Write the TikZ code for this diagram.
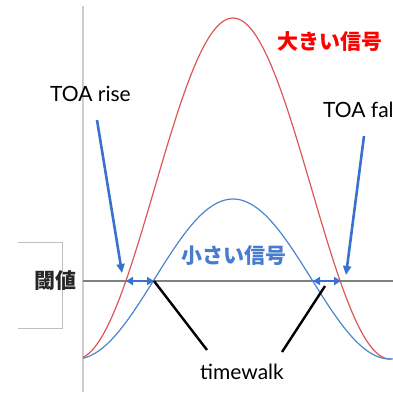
\documentclass[tikz,border=0pt]{standalone}
\usepackage{fontspec}
\setmainfont{Lato}
\newfontfamily\jp{Noto Sans CJK JP}
\usetikzlibrary{arrows.meta}
\definecolor{bigred}{RGB}{222,86,86}
\definecolor{smallblue}{RGB}{74,134,204}
\definecolor{arrowblue}{RGB}{58,112,206}
\definecolor{textblue}{RGB}{72,124,204}
\begin{document}
\begin{tikzpicture}[x=1pt,y=-1pt,
	lbl/.style={font=\fontsize{21}{24}\selectfont,inner sep=0pt},
	jplbl/.style={font=\jp\bfseries\fontsize{21}{24}\selectfont,inner sep=0pt},
	toa/.style={arrowblue,line width=2.6pt,-{Triangle[length=9pt,width=8pt]}},
	walk/.style={arrowblue,line width=2.6pt,{Triangle[length=7pt,width=8pt]}-{Triangle[length=7pt,width=8pt]}},
	tick/.style={black,line width=2.4pt}]
		\useasboundingbox (0,0) rectangle (393,392);
		
		% axes
		\draw[gray!40,line width=1.4pt] (83,6) -- (83,392);
		\draw[gray!50,line width=0.8pt] (18,242) -- (62,242) -- (62,328) -- (18,328);
		\draw[gray,line width=1.4pt] (83,281) -- (393,281);
		
		% signals
		\draw[bigred,line width=1.2pt] plot[domain=83:391,samples=120]
			(\x,{359-341*(1+cos((\x-233)/157*180))/2});
		\draw[smallblue,line width=1.2pt] plot[domain=83:393,samples=120]
			(\x,{359-160*(1+cos((\x-233)/157*180))/2});
		
		% crossings of the threshold
		\coordinate (redL) at (126,281);
		\coordinate (blueL) at (154,281);
		\coordinate (blueR) at (313,281);
		\coordinate (redR) at (341,281);
		
		\node[lbl,anchor=base west] (rise) at (50,101) {TOA rise};
		\node[lbl,anchor=base west] (fall) at (323,117) {TOA fal};
		\node[lbl,anchor=base west] (walk) at (200,379) {timewalk};
		\node[jplbl,text=red] (big) at (330,42) {大きい信号};
		\node[jplbl,text=textblue] (small) at (234,256) {小さい信号};
		\node[jplbl,text=black!85] (thr) at (55,281) {閾値};
		
		\coordinate (riseS) at (97,120);
		\coordinate (riseE) at (122,273);
		\coordinate (fallS) at (364,136);
		\coordinate (fallE) at (346,275);
		\draw[toa] (riseS) -- (riseE);
		\draw[toa] (fallS) -- (fallE);
		
		\draw[walk] (redL) -- (blueL);
		\draw[walk] (blueR) -- (redR);
		
		\coordinate (walkL) at (207,350);
		\coordinate (walkT) at (325,286);
		\coordinate (walkR) at (282,352);
		\draw[tick] (blueL) -- (walkL);
		\draw[tick] (walkT) -- (walkR);
	\end{tikzpicture}
\end{document}
